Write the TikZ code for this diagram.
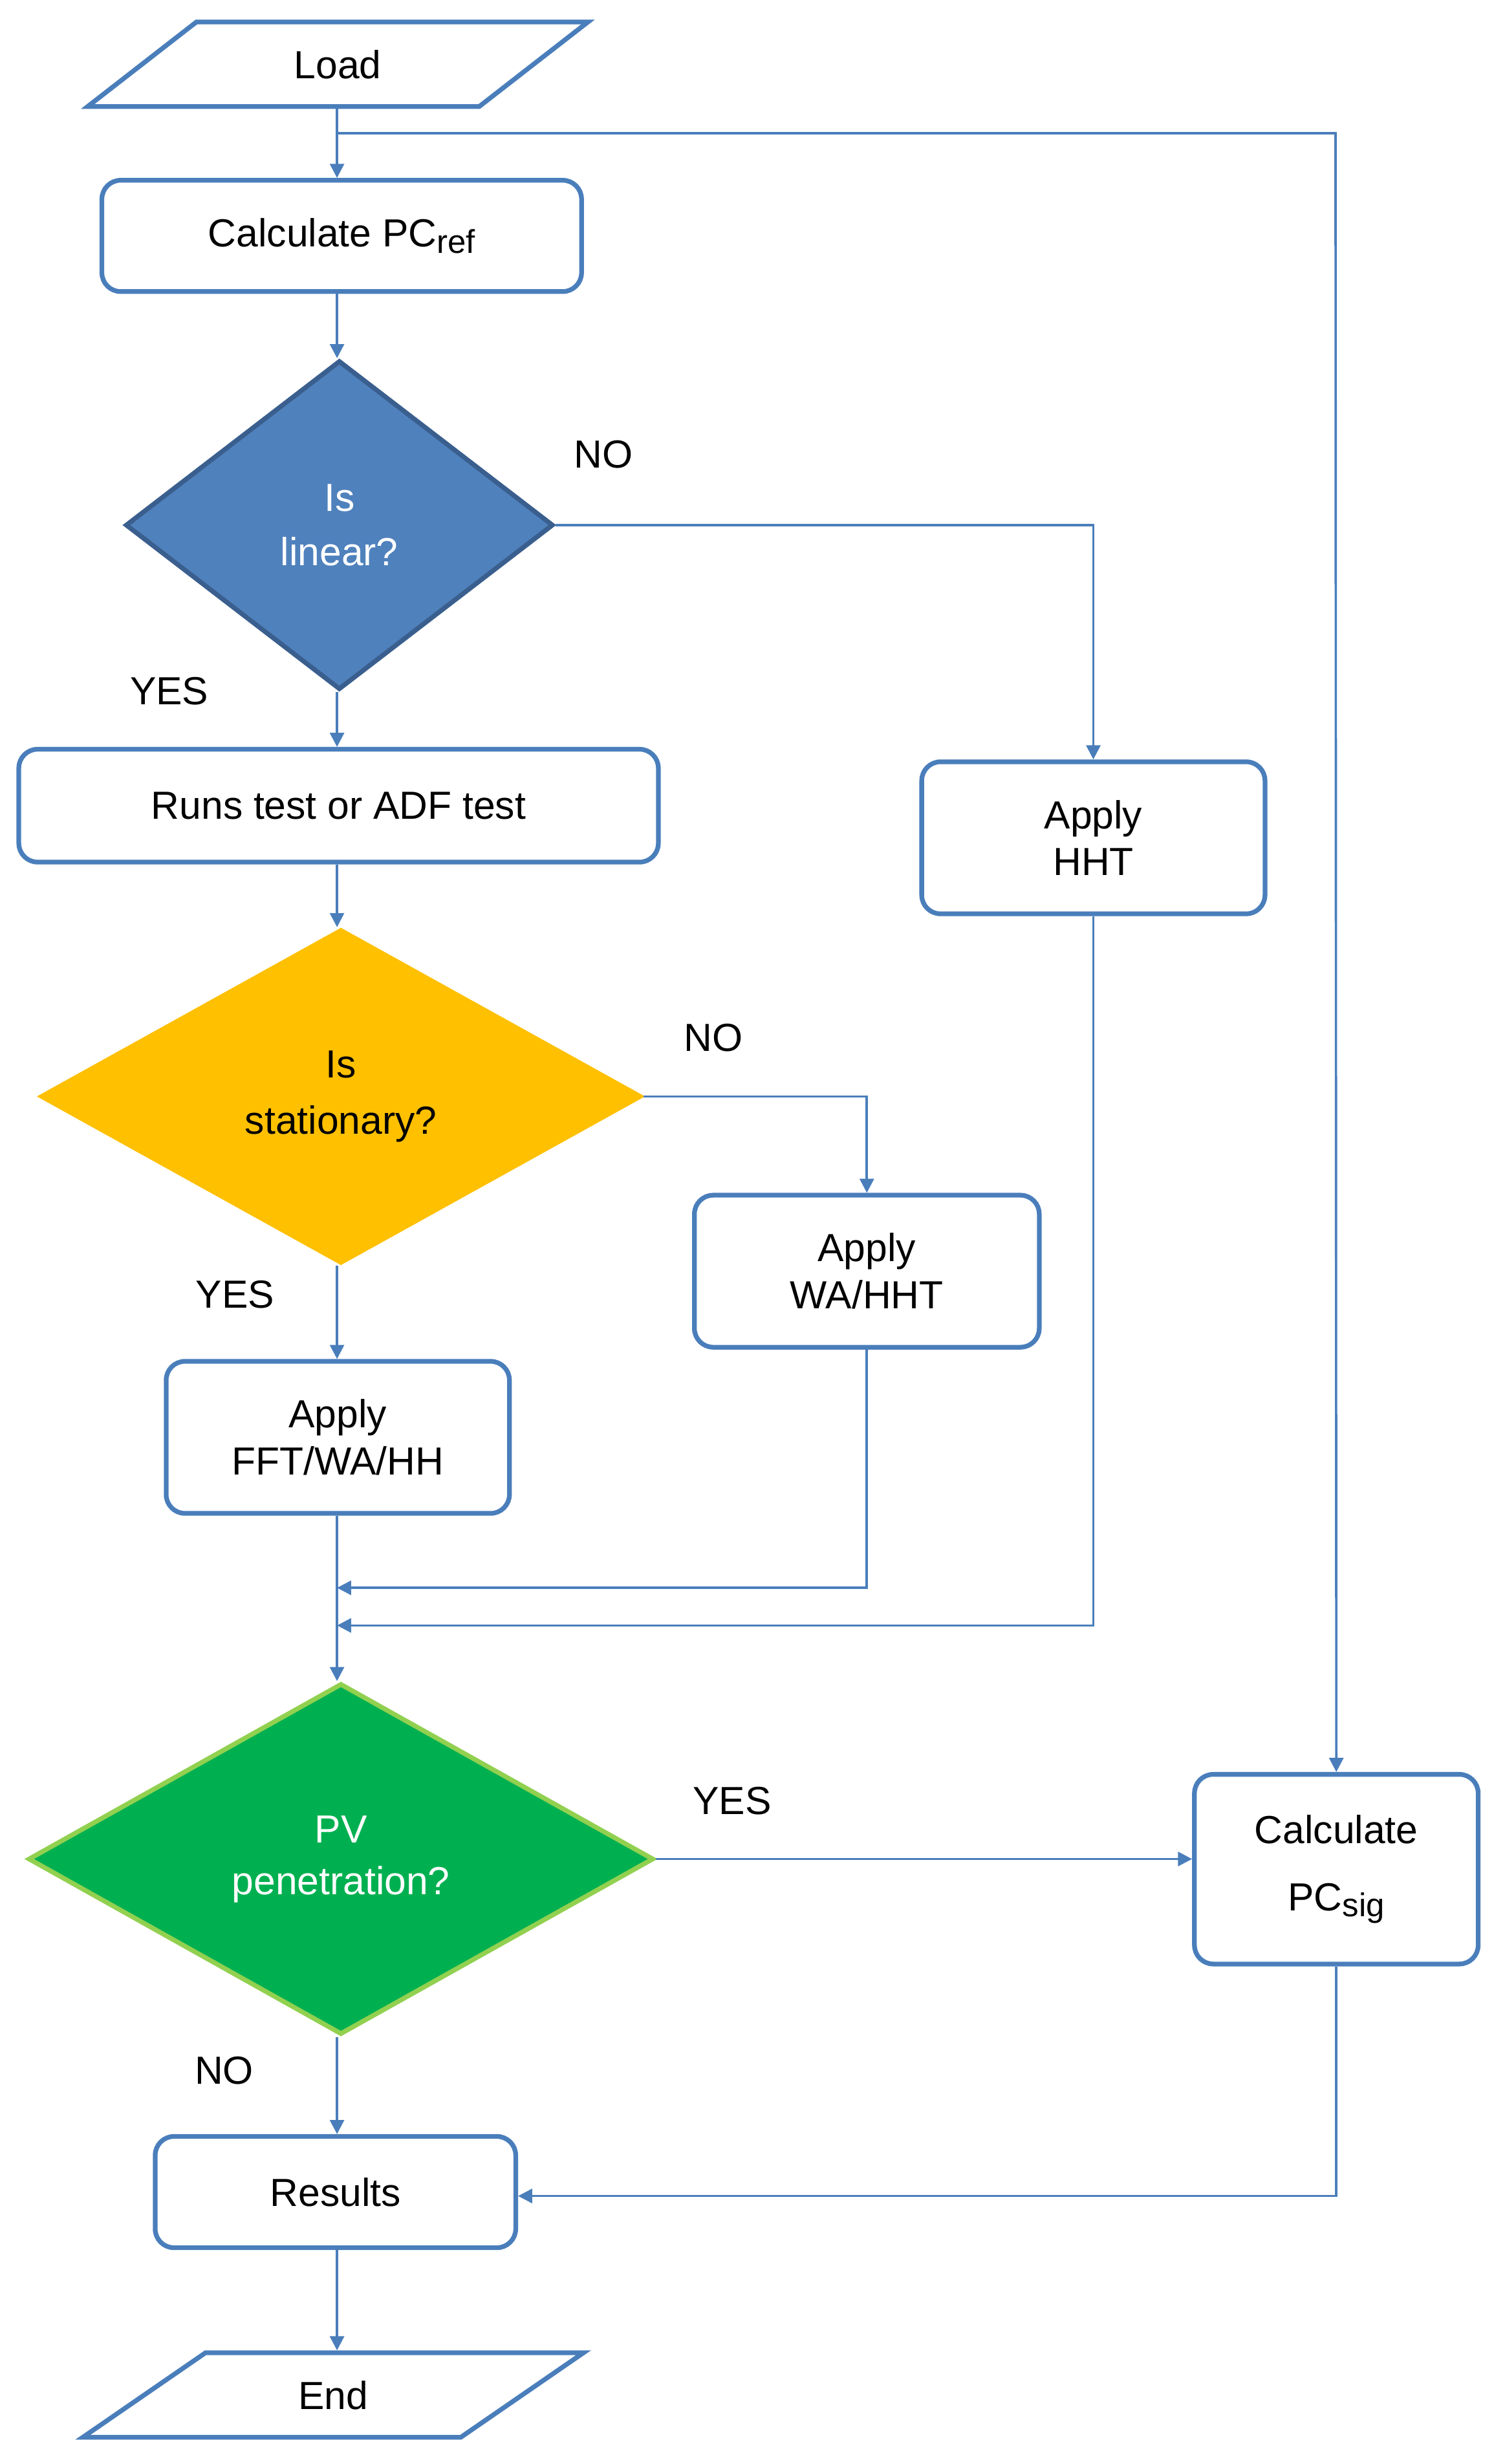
\documentclass[tikz,border=0pt]{standalone}
\usepackage{fontspec}
\setmainfont{Liberation Sans}
\usetikzlibrary{shapes.geometric,arrows.meta}
\definecolor{bl}{HTML}{4A7EBB}
\definecolor{dbl}{HTML}{4F81BD}
\definecolor{dbb}{HTML}{3A5F8E}
\definecolor{yel}{HTML}{FFC000}
\definecolor{grn}{HTML}{00B050}
\definecolor{lgr}{HTML}{92D050}
\begin{document}
\begin{tikzpicture}[x=1pt,y=-1pt,
  font=\fontsize{25}{30}\selectfont,
  box/.style={draw=bl,line width=3pt,rounded corners=12pt,align=center,inner sep=0pt},
  io/.style={draw=bl,line width=3pt,trapezium,trapezium left angle=40.6,trapezium right angle=139.4,trapezium stretches=true,minimum width=321pt,minimum height=54pt,inner sep=0pt},
  dia/.style={diamond,align=center,inner sep=0pt,line width=3pt,trapezium stretches=true},
  con/.style={draw=bl,line width=1.5pt},
  arr/.style={con,-{Triangle[length=9pt,width=9pt]}},
  lab/.style={inner sep=0pt}]
\useasboundingbox (0,0) rectangle (960,1572);
\node[io] (load) at (215.5,41) {Load};
\node[box,minimum width=306pt,minimum height=71pt] (pcref) at (218,150.5) {Calculate PC\raisebox{-0.3ex}{\fontsize{21}{21}\selectfont ref}};
\node[dia,draw=dbb,fill=dbl,text=white,minimum width=273pt,minimum height=210pt,font=\fontsize{25}{35}\selectfont] (lin) at (216.5,335) {Is\\linear?};
\node[box,minimum width=408pt,minimum height=72pt] (runs) at (216,514) {Runs test or ADF test};
\node[dia,draw=yel,fill=yel,minimum width=383pt,minimum height=213pt,font=\fontsize{25}{36}\selectfont] (stat) at (217.5,699.5) {Is\\stationary?};
\node[box,minimum width=220pt,minimum height=97pt] (wahht) at (553,811) {Apply\\WA/HHT};
\node[box,minimum width=219pt,minimum height=97pt] (fft) at (215.5,917) {Apply\\FFT/WA/HH};
\node[box,minimum width=219pt,minimum height=97pt] (hht) at (697.5,534.5) {Apply\\HHT};
\node[dia,draw=lgr,fill=grn,text=white,minimum width=399pt,minimum height=224pt,font=\fontsize{25}{33}\selectfont] (pv) at (217.5,1186) {PV\\penetration?};
\node[box,minimum width=181pt,minimum height=121pt,font=\fontsize{25}{43}\selectfont] (pcsig) at (852.5,1192.5) {Calculate\\PC\raisebox{-0.3ex}{\fontsize{21}{21}\selectfont sig}};
\node[box,minimum width=230pt,minimum height=71pt] (res) at (214,1398.5) {Results};
\node[io] (end) at (212.5,1528) {End};
\node[lab] at (385,290) {NO};
\node[lab] at (108,441) {YES};
\node[lab] at (455,662) {NO};
\node[lab] at (150,826) {YES};
\node[lab] at (467,1149) {YES};
\node[lab] at (143,1321) {NO};
\coordinate (j0) at (215,85);
\coordinate (j1) at (215,1013);
\coordinate (j2) at (215,1037);
\draw[arr] (load.south -| j0) -- (pcref.north -| j0);
\draw[arr] (j0) -- (852,85) -- (pcsig.north);
\draw[arr] (pcref.south -| j0) -- (lin.north -| j0);
\draw[arr] (lin.east) -- (lin.east -| hht) -- (hht.north);
\draw[arr] (lin.south -| j0) -- (runs.north -| j0);
\draw[arr] (runs.south -| j0) -- (stat.north -| j0);
\draw[arr] (stat.east) -- (stat.east -| wahht) -- (wahht.north);
\draw[arr] (stat.south -| j0) -- (fft.north -| j0);
\draw[con] (fft.south -| j0) -- (j2);
\draw[arr] (wahht.south) -- (wahht.south |- j1) -- (j1);
\draw[arr] (hht.south) -- (hht.south |- j2) -- (j2);
\draw[arr] (j2) -- (pv.north -| j0);
\draw[arr] (pv.east) -- (pcsig.west |- pv.east);
\draw[arr] (pv.south -| j0) -- (res.north -| j0);
\draw[arr] (pcsig.south) -- (pcsig.south |- 0,1401) -- (res.east |- 0,1401);
\draw[arr] (res.south -| j0) -- (end.north -| j0);
\end{tikzpicture}
\end{document}
